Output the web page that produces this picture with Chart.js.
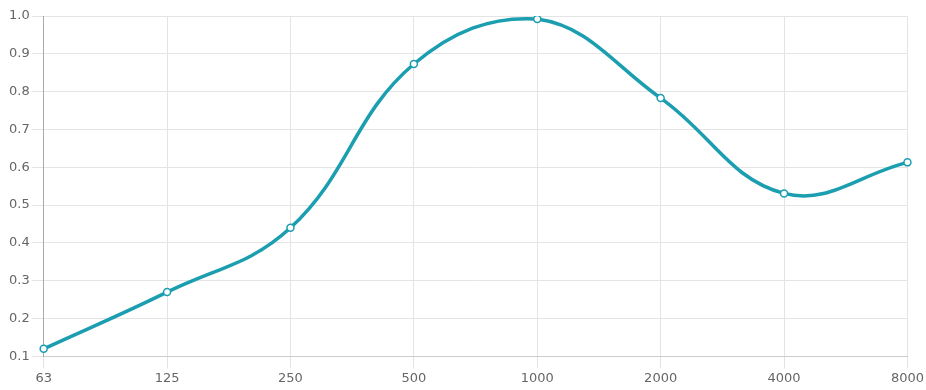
<!DOCTYPE html>
<html>
<head>
<meta charset="utf-8">
<script src="https://cdn.jsdelivr.net/npm/chart.js"></script>
<style>
  html, body { margin: 0; padding: 0; background: #fff; }
  #wrap { width: 926px; height: 390px; }
</style>
</head>
<body>
<div id="wrap"><canvas id="freqChart" width="926" height="390"></canvas></div>
<script>
  const frequencies = ["63", "125", "250", "500", "1000", "2000", "4000", "8000"];
  const absorption = [0.12, 0.27, 0.44, 0.873, 0.992, 0.783, 0.531, 0.613];
  const yTicks = [0.1, 0.2, 0.3, 0.4, 0.5, 0.6, 0.7, 0.8, 0.9, 1.0];

  const lineColor = "#1a9eb0";
  const tickFont = { family: "DejaVu Sans", size: 13 };

  new Chart(document.getElementById("freqChart"), {
    type: "line",
    data: {
      labels: frequencies,
      datasets: [
        {
          data: absorption,
          borderColor: lineColor,
          borderWidth: 3.5,
          tension: 0.4,
          fill: false,
          pointRadius: 3.5,
          pointBorderWidth: 1.5,
          pointBackgroundColor: "#fff",
          pointBorderColor: lineColor,
        },
      ],
    },
    options: {
      responsive: false,
      animation: false,
      layout: { padding: { top: 16, right: 18, bottom: 2, left: 7 } },
      plugins: { legend: { display: false }, tooltip: { enabled: false } },
      scales: {
        x: {
          offset: false,
          grid: { color: "#e4e4e4", tickLength: 12 },
          border: { color: "#ccc" },
          ticks: { color: "#666", font: tickFont, maxRotation: 0, padding: 2 },
        },
        y: {
          min: yTicks[0],
          max: yTicks[yTicks.length - 1],
          afterBuildTicks: (axis) => {
            axis.ticks = yTicks.map((v) => ({ value: v }));
          },
          grid: { color: "#e4e4e4", tickLength: 12 },
          border: { color: "#aaa" },
          ticks: {
            color: "#666",
            font: tickFont,
            padding: 2,
            callback: (v) => Number(v).toFixed(1),
          },
        },
      },
    },
  });
</script>
</body>
</html>
